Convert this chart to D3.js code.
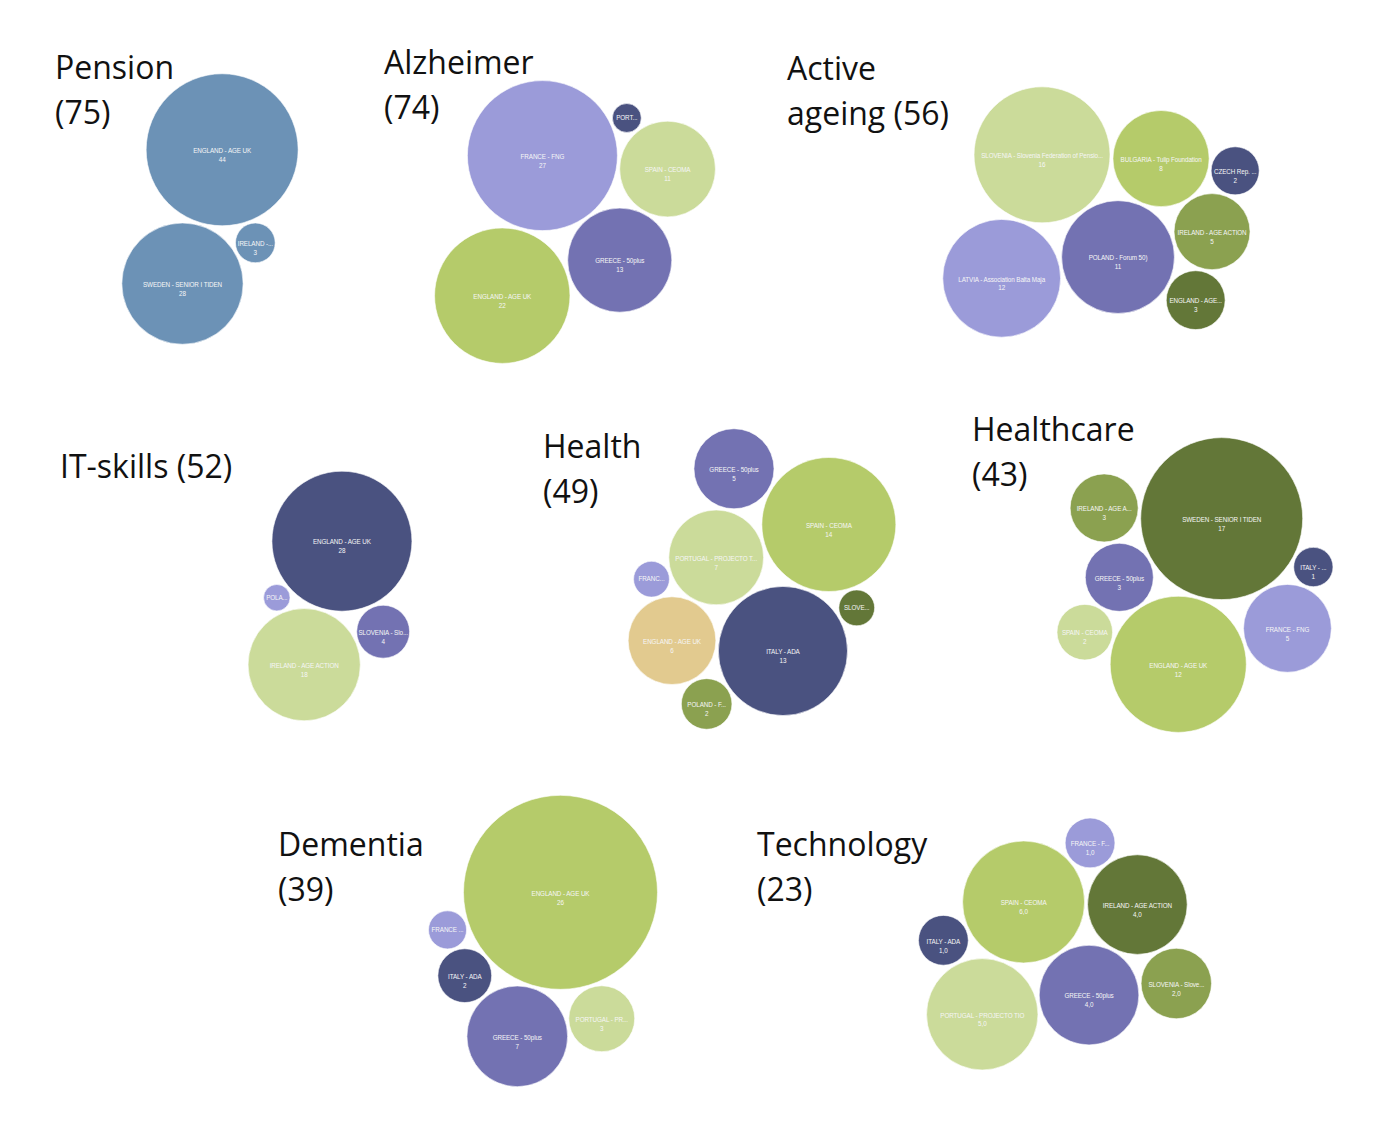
<!DOCTYPE html>
<html>
<head>
<meta charset="utf-8">
<script src="https://cdn.jsdelivr.net/npm/d3@7"></script>
<style>
  body { margin: 0; background: #fff; }
</style>
</head>
<body>
<div id="chart"></div>
<script>
const width = 1378;
const height = 1127;

// topics and the totals shown in their titles
const topics = ["Pension", "Alzheimer", "Active ageing", "IT-skills", "Health", "Healthcare", "Dementia", "Technology"];
const totals = [75, 74, 56, 52, 49, 43, 39, 23];

// bubbles per topic (labels are shown truncated like in the original)
const pensionLabels = ["SWEDEN - SENIOR I TIDEN", "ENGLAND - AGE UK", "IRELAND -..."];
const pensionValues = [28, 44, 3];
const pensionTones = ["blue", "blue", "blue"];

const alzheimerLabels = ["FRANCE - FNG", "GREECE - 50plus", "ENGLAND - AGE UK", "SPAIN - CEOMA", "PORT..."];
const alzheimerValues = [27, 13, 22, 11, 1];
const alzheimerTones = ["lavender", "purple", "yellowgreen", "palegreen", "navy"];

const activeLabels = ["BULGARIA - Tulip Foundation", "POLAND - Forum 50)", "SLOVENIA - Slovenia Federation of Pensio...",
  "IRELAND - AGE ACTION", "CZECH Rep. ...", "ENGLAND - AGE...", "LATVIA - Association Balta Maja"];
const activeValues = [8, 11, 16, 5, 2, 3, 12];
const activeTones = ["yellowgreen", "purple", "palegreen", "olive", "navy", "darkolive", "lavender"];

const itLabels = ["IRELAND - AGE ACTION", "ENGLAND - AGE UK", "SLOVENIA - Slo...", "POLA..."];
const itValues = [18, 28, 4, 1];
const itTones = ["palegreen", "navy", "purple", "lavender"];

const healthLabels = ["PORTUGAL - PROJECTO T...", "ITALY - ADA", "ENGLAND - AGE UK", "SPAIN - CEOMA",
  "POLAND - F...", "SLOVE...", "FRANC...", "GREECE - 50plus"];
const healthValues = [7, 13, 6, 14, 2, 1, 1, 5];
const healthTones = ["palegreen", "navy", "tan", "yellowgreen", "olive", "darkolive", "lavender", "purple"];

const healthcareLabels = ["SWEDEN - SENIOR I TIDEN", "ENGLAND - AGE UK", "GREECE - 50plus", "FRANCE - FNG",
  "IRELAND - AGE A...", "ITALY - ...", "SPAIN - CEOMA"];
const healthcareValues = [17, 12, 3, 5, 3, 1, 2];
const healthcareTones = ["darkolive", "yellowgreen", "purple", "lavender", "olive", "navy", "palegreen"];

const dementiaLabels = ["ENGLAND - AGE UK", "GREECE - 50plus", "ITALY - ADA", "PORTUGAL - PR...", "FRANCE ..."];
const dementiaValues = [26, 7, 2, 3, 1];
const dementiaTones = ["yellowgreen", "purple", "navy", "palegreen", "lavender"];

const technologyLabels = ["SPAIN - CEOMA", "GREECE - 50plus", "PORTUGAL - PROJECTO TIO", "IRELAND - AGE ACTION",
  "FRANCE - F...", "ITALY - ADA", "SLOVENIA - Slove..."];
const technologyValues = [6, 4, 5, 4, 1, 1, 2];
const technologyTones = ["yellowgreen", "purple", "palegreen", "darkolive", "lavender", "navy", "olive"];

const palette = {
  blue: "#6c92b6",
  lavender: "#9b9bd9",
  purple: "#7372b2",
  navy: "#4a5280",
  palegreen: "#cbdb9a",
  yellowgreen: "#b5cb6a",
  olive: "#8ba150",
  darkolive: "#637738",
  tan: "#e2ca8f"
};

const groups = [
  [pensionLabels, pensionValues, pensionTones],
  [alzheimerLabels, alzheimerValues, alzheimerTones],
  [activeLabels, activeValues, activeTones],
  [itLabels, itValues, itTones],
  [healthLabels, healthValues, healthTones],
  [healthcareLabels, healthcareValues, healthcareTones],
  [dementiaLabels, dementiaValues, dementiaTones],
  [technologyLabels, technologyValues, technologyTones]
];

// panel layout: title lines + position, bubble cluster center, biggest radius, rotation
const layout = [
  { lines: ["Pension", "(75)"], tx: 55, ty: 79, cx: 210, cy: 209, maxR: 76, rot: -73.5 },
  { lines: ["Alzheimer", "(74)"], tx: 384, ty: 74, cx: 575, cy: 222, maxR: 75, rot: 53.5 },
  { lines: ["Active", "ageing (56)"], tx: 787, ty: 80, cx: 1101, cy: 212, maxR: 68, rot: 113.6 },
  { lines: ["IT-skills (52)"], tx: 60, ty: 478, cx: 330, cy: 596, maxR: 70, rot: -73 },
  { lines: ["Health", "(49)"], tx: 543, ty: 458, cx: 762, cy: 579, maxR: 67, rot: 54.5 },
  { lines: ["Healthcare", "(43)"], tx: 972, ty: 441, cx: 1195, cy: 585, maxR: 81, rot: 106.6 },
  { lines: ["Dementia", "(39)"], tx: 278, ty: 856, cx: 543, cy: 941, maxR: 97, rot: 106.7 },
  { lines: ["Technology", "(23)"], tx: 757, ty: 856, cx: 1065, cy: 944, maxR: 61, rot: 54.9, comma: true }
];

const pad = 1.5;
const lineGap = 45;

const svg = d3.select("#chart").append("svg")
  .attr("width", width)
  .attr("height", height);

groups.forEach(([labels, values, tones], gi) => {
  const cfg = layout[gi];
  const rScale = d3.scaleSqrt().domain([0, d3.max(values)]).range([0, cfg.maxR]);

  const nodes = values.map((v, i) => ({
    value: v, label: labels[i], tone: tones[i],
    rr: rScale(v), r: rScale(v) + pad
  }));
  d3.packSiblings(nodes);

  // rotate the packed cluster, then center its bounding box on the panel point
  const a = cfg.rot * Math.PI / 180;
  nodes.forEach(n => {
    const x = n.x * Math.cos(a) - n.y * Math.sin(a);
    const y = n.x * Math.sin(a) + n.y * Math.cos(a);
    n.x = x; n.y = y;
  });
  const x0 = d3.min(nodes, n => n.x - n.rr), x1 = d3.max(nodes, n => n.x + n.rr);
  const y0 = d3.min(nodes, n => n.y - n.rr), y1 = d3.max(nodes, n => n.y + n.rr);
  const dx = cfg.cx - (x0 + x1) / 2, dy = cfg.cy - (y0 + y1) / 2;

  const fmt = cfg.comma ? (v => d3.format(".1f")(v).replace(".", ",")) : d3.format("d");

  const g = svg.append("g").attr("transform", `translate(${dx},${dy})`);

  const bubble = g.selectAll("g.bubble")
    .data(nodes).enter()
    .append("g")
    .attr("class", "bubble")
    .attr("transform", d => `translate(${d.x},${d.y})`);

  bubble.append("circle")
    .attr("r", d => d.rr)
    .style("fill", d => palette[d.tone])
    .style("stroke", "#fff")
    .style("stroke-width", 0.6);

  bubble.append("text")
    .attr("text-anchor", "middle")
    .attr("y", d => d.rr >= 19.5 ? 1 : 0)
    .attr("dy", "0.35em")
    .style("font-family", "'Liberation Sans', Arial, sans-serif")
    .style("font-size", "6.3px")
    .style("letter-spacing", "-0.1px")
    .style("fill", "#f6f6f6")
    .text(d => d.label);

  bubble.filter(d => d.rr >= 19.5)
    .append("text")
    .attr("text-anchor", "middle")
    .attr("y", 10)
    .attr("dy", "0.35em")
    .style("font-family", "'Liberation Sans', Arial, sans-serif")
    .style("font-size", "6.3px")
    .style("fill", "#f6f6f6")
    .text(d => fmt(d.value));

  // title
  const title = svg.append("text")
    .attr("x", cfg.tx)
    .attr("y", cfg.ty)
    .style("font-family", "'Open Sans', sans-serif")
    .style("font-size", "32px")
    .style("fill", "#111");
  cfg.lines.forEach((line, li) => {
    title.append("tspan")
      .attr("x", cfg.tx)
      .attr("y", cfg.ty + li * lineGap)
      .text(line);
  });
});
</script>
</body>
</html>
